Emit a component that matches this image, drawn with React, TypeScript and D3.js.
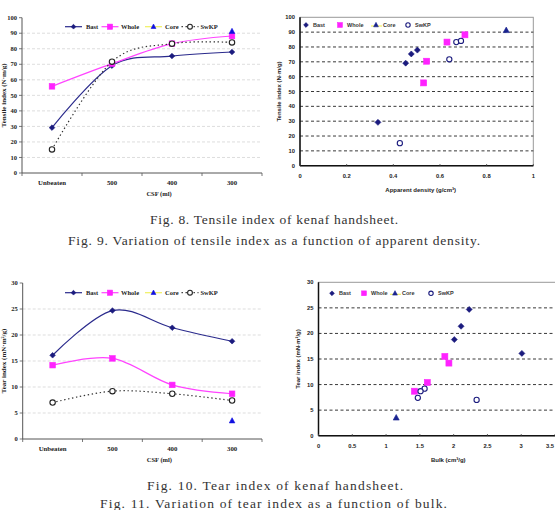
import React from 'react';
import * as d3 from 'd3';

// Freeness steps (CSF, ml) used on the category axis of the line charts
const csfLabels = ['Unbeaten', '500', '400', '300'];

// Tensile index (N·m/g) by freeness
const tensileBast = [29.2, 69.1, 75.3, 77.9];
const tensileWhole = [55.8, 70.4, 83.3, 88.2];
const tensileCore = [null, null, null, 91.2];
const tensileSwkp = [15.2, 71.7, 83.3, 84.1];

// Tear index (mN·m²/g) by freeness
const tearBast = [16.1, 24.7, 21.4, 18.8];
const tearWhole = [14.2, 15.5, 10.4, 8.7];
const tearCore = [null, null, null, 3.5];
const tearSwkp = [7.0, 9.2, 8.7, 7.4];

// Apparent density (g/cm³) by freeness
const densityBast = [0.334, 0.453, 0.477, 0.503];
const densityWhole = [0.53, 0.543, 0.63, 0.707];
const densityCore = [null, null, null, 0.884];
const densitySwkp = [0.428, 0.64, 0.67, 0.69];

// Bulk (cm³/g) by freeness
const bulkBast = [3.01, 2.23, 2.11, 2.01];
const bulkWhole = [1.93, 1.87, 1.61, 1.42];
const bulkCore = [null, null, null, 1.15];
const bulkSwkp = [2.34, 1.57, 1.51, 1.47];

const tensileTicks = [0, 10, 20, 30, 40, 50, 60, 70, 80, 90, 100];
const tearTicks = [0, 5, 10, 15, 20, 25, 30];
const densityTicks = [0, 0.2, 0.4, 0.6, 0.8, 1];
const bulkTicks = [0, 0.5, 1, 1.5, 2, 2.5, 3, 3.5];

const seriesNames = ['Bast', 'Whole', 'Core', 'SwKP'];

type Shape = 'diamond' | 'square' | 'triangle' | 'circle';
type V = number | null;

const SERIF = "'Liberation Serif', 'Times New Roman', serif";
const SANS = "'Liberation Sans', Arial, sans-serif";

const lineStyles = [
  { shape: 'diamond' as Shape, color: '#1b1b7e', fill: '#1b1b7e', dash: undefined as string | undefined, line: '#2a2a8c' },
  { shape: 'square' as Shape, color: '#ff22ff', fill: '#ff22ff', dash: undefined, line: '#ff44ff' },
  { shape: 'triangle' as Shape, color: '#1010e0', fill: '#1010e0', dash: undefined, line: '#f0f060' },
  { shape: 'circle' as Shape, color: '#222', fill: '#fff', dash: '1.4 2.6', line: '#333' },
];

const scatterStyles = [
  { shape: 'diamond' as Shape, color: '#1b1b7e', fill: '#1b1b7e' },
  { shape: 'square' as Shape, color: '#ff22ff', fill: '#ff22ff' },
  { shape: 'triangle' as Shape, color: '#1a2390', fill: '#1a2390' },
  { shape: 'circle' as Shape, color: '#1b1b7e', fill: '#fff' },
];

function Marker({ shape, x, y, s, fill, stroke }: { shape: Shape; x: number; y: number; s: number; fill: string; stroke: string }) {
  if (shape === 'diamond')
    return <path d={`M${x},${y - s}L${x + s},${y}L${x},${y + s}L${x - s},${y}Z`} fill={fill} stroke={stroke} strokeWidth={0.6} />;
  if (shape === 'square')
    return <rect x={x - s} y={y - s} width={2 * s} height={2 * s} fill={fill} stroke={stroke} strokeWidth={0.6} />;
  if (shape === 'triangle')
    return <path d={`M${x},${y - s * 1.1}L${x + s},${y + s * 0.75}L${x - s},${y + s * 0.75}Z`} fill={fill} stroke={stroke} strokeWidth={0.6} />;
  return <circle cx={x} cy={y} r={s} fill={fill} stroke={stroke} strokeWidth={1.1} />;
}

// Line chart with the freeness categories on x (Excel-like smoothed lines)
function CsfChart({ series, yTicks, left, right, top, bottom, yTitle, legendY }: {
  series: V[][]; yTicks: number[]; left: number; right: number; top: number; bottom: number; yTitle: string; legendY: number;
}) {
  const x = d3.scaleBand<string>().domain(csfLabels).range([left, right]).padding(0);
  const y = d3.scaleLinear().domain([0, d3.max(yTicks) as number]).range([bottom, top]);
  const cx = (i: number) => (x(csfLabels[i]) as number) + x.bandwidth() / 2;
  const line = d3.line<V>()
    .defined(d => d != null)
    .x((_, i) => cx(i))
    .y(d => y(d as number))
    .curve(d3.curveCardinal.tension(0));
  const legendX = [65, 101.5, 145, 181.5];
  const legendW = 17;
  const textX = [86, 121, 165, 200.5];
  return (
    <g>
      {yTicks.slice(1, -1).map(t => (
        <line key={t} x1={left} x2={right} y1={y(t)} y2={y(t)} stroke="#cfcfcf" strokeWidth={0.7} strokeDasharray="3 2" />
      ))}
      <line x1={left} x2={left} y1={top} y2={bottom} stroke="#555" strokeWidth={1} />
      <line x1={left} x2={right} y1={bottom} y2={bottom} stroke="#555" strokeWidth={1} />
      {yTicks.map(t => (
        <g key={t}>
          <line x1={left - 3} x2={left} y1={y(t)} y2={y(t)} stroke="#555" strokeWidth={0.8} />
          <text x={left - 5} y={y(t) + 2.2} textAnchor="end" fontFamily={SERIF} fontWeight="bold" fontSize={6.5} fill="#222">{t}</text>
        </g>
      ))}
      {csfLabels.map((c, i) => (
        <g key={c}>
          <line x1={x(c) as number} x2={x(c) as number} y1={bottom} y2={bottom + 3} stroke="#555" strokeWidth={0.8} />
          <text x={cx(i)} y={bottom + 12} textAnchor="middle" fontFamily={SERIF} fontWeight="bold" fontSize={6.8} fill="#222">{c}</text>
        </g>
      ))}
      <line x1={right} x2={right} y1={bottom} y2={bottom + 3} stroke="#555" strokeWidth={0.8} />
      <text x={(left + right) / 2 + 17} y={bottom + 23} textAnchor="middle" fontFamily={SERIF} fontWeight="bold" fontSize={6.5} fill="#222">CSF (ml)</text>
      <text transform={`translate(6,${(top + bottom) / 2}) rotate(-90)`} textAnchor="middle" fontFamily={SERIF} fontWeight="bold" fontSize={7} fill="#222">{yTitle}</text>
      {series.map((vals, si) => {
        const st = lineStyles[si];
        const count = vals.filter(v => v != null).length;
        return (
          <g key={si}>
            {count > 1 && (
              <path d={line(vals) as string} fill="none" stroke={st.line} strokeWidth={1.2} strokeDasharray={st.dash} />
            )}
            {vals.map((v, i) => v == null ? null : (
              <Marker key={i} shape={st.shape} x={cx(i)} y={y(v)} s={st.shape === 'circle' ? 2.7 : 2.8} fill={st.fill} stroke={st.color} />
            ))}
          </g>
        );
      })}
      {seriesNames.map((n, i) => {
        const st = lineStyles[i];
        const x0 = legendX[i];
        return (
          <g key={n}>
            <line x1={x0} x2={x0 + legendW} y1={legendY} y2={legendY} stroke={st.line} strokeWidth={1.2} strokeDasharray={st.dash} />
            <Marker shape={st.shape} x={x0 + legendW / 2} y={legendY} s={st.shape === 'square' ? 2.6 : 2.4} fill={st.fill} stroke={st.color} />
            <text x={textX[i]} y={legendY + 2.3} fontFamily={SERIF} fontWeight="bold" fontSize={6.5} fill="#222">{n}</text>
          </g>
        );
      })}
    </g>
  );
}

// Scatter chart of a strength value against a sheet property
function PropertyChart({ xs, ys, xTicks, yTicks, left, right, top, bottom, xMax, xRight, yTitle, xTitle, legendX, legendY }: {
  xs: V[][]; ys: V[][]; xTicks: number[]; yTicks: number[]; left: number; right: number; top: number; bottom: number;
  xMax: number; xRight: number; yTitle: string; xTitle: string; legendX: number[]; legendY: number;
}) {
  const x = d3.scaleLinear().domain([0, xMax]).range([left, xRight]);
  const y = d3.scaleLinear().domain([0, d3.max(yTicks) as number]).range([bottom, top]);
  return (
    <g>
      <rect x={left} y={top} width={right - left} height={bottom - top} fill="none" stroke="#999" strokeWidth={1} />
      {yTicks.slice(1, -1).map(t => (
        <line key={t} x1={left} x2={right} y1={y(t)} y2={y(t)} stroke="#222" strokeWidth={0.9} strokeDasharray="3 2.5" />
      ))}
      <line x1={left} x2={left} y1={top} y2={bottom} stroke="#111" strokeWidth={1.5} />
      <line x1={left} x2={right} y1={bottom} y2={bottom} stroke="#111" strokeWidth={1.5} />
      {yTicks.map(t => (
        <text key={t} x={left - 5} y={y(t) + 2} textAnchor="end" fontFamily={SANS} fontWeight="bold" fontSize={5.8} fill="#222">{t}</text>
      ))}
      {xTicks.map(t => {
        const px = x(t);
        // keep the last label inside the page edge
        const edge = px > 549;
        return (
          <g key={t}>
            <line x1={px} x2={px} y1={bottom} y2={bottom - 1.5} stroke="#444" strokeWidth={1} />
            <text x={edge ? 554 : px} y={bottom + 12} textAnchor={edge ? 'end' : 'middle'} fontFamily={SANS} fontWeight="bold" fontSize={5.8} fill="#222">{t}</text>
          </g>
        );
      })}
      <text x={(left + right) / 2 + 4} y={bottom + 26} textAnchor="middle" fontFamily={SANS} fontWeight="bold" fontSize={6} fill="#222">{xTitle}</text>
      <text transform={`translate(${left - 19},${(top + bottom) / 2}) rotate(-90)`} textAnchor="middle" fontFamily={SANS} fontWeight="bold" fontSize={6} fill="#222">{yTitle}</text>
      {xs.map((col, si) => {
        const st = scatterStyles[si];
        return col.map((v, i) => {
          const w = ys[si][i];
          if (v == null || w == null) return null;
          return <Marker key={`${si}-${i}`} shape={st.shape} x={x(v)} y={y(w)} s={st.shape === 'circle' ? 2.6 : 3} fill={st.fill} stroke={st.color} />;
        });
      })}
      {seriesNames.map((n, i) => {
        const st = scatterStyles[i];
        const x0 = legendX[i];
        return (
          <g key={n}>
            {st.shape === 'triangle' && (
              <line x1={x0 - 5} x2={x0 + 6} y1={legendY + 1} y2={legendY + 1} stroke="#f0f060" strokeWidth={1.2} />
            )}
            <Marker shape={st.shape} x={x0} y={legendY} s={st.shape === 'circle' ? 2.2 : 2.4} fill={st.fill} stroke={st.color} />
            <text x={x0 + 7} y={legendY + 2} fontFamily={SANS} fontWeight="bold" fontSize={5.5} fill="#333">{n}</text>
          </g>
        );
      })}
    </g>
  );
}

function Caption({ y, text, x1, x2 }: { y: number; text: string; x1: number; x2: number }) {
  return (
    <text x={x1} y={y} fontFamily={SERIF} fontSize={13.5} fill="#333" textLength={x2 - x1} lengthAdjust="spacing">{text}</text>
  );
}

export default function App() {
  return (
    <div style={{ position: 'absolute', left: 0, top: 0 }}>
      <svg width={555} height={510} style={{ display: 'block', background: '#fff' }}>
        <CsfChart
          series={[tensileBast, tensileWhole, tensileCore, tensileSwkp]}
          yTicks={tensileTicks}
          left={22} right={262} top={17.7} bottom={173}
          yTitle="Tensile index (N·m/g)"
          legendY={26.7}
        />
        <PropertyChart
          xs={[densityBast, densityWhole, densityCore, densitySwkp]}
          ys={[tensileBast, tensileWhole, tensileCore, tensileSwkp]}
          xTicks={densityTicks} yTicks={tensileTicks}
          left={300} right={533.3} top={17.3} bottom={165.7}
          xMax={1} xRight={533.3}
          yTitle="Tensile index (N·m/g)" xTitle="Apparent density (g/cm³)"
          legendX={[306, 340, 376, 408]} legendY={25}
        />
        <CsfChart
          series={[tearBast, tearWhole, tearCore, tearSwkp]}
          yTicks={tearTicks}
          left={22.7} right={262} top={283} bottom={439}
          yTitle="Tear index (mN·m²/g)"
          legendY={292.7}
        />
        <PropertyChart
          xs={[bulkBast, bulkWhole, bulkCore, bulkSwkp]}
          ys={[tearBast, tearWhole, tearCore, tearSwkp]}
          xTicks={bulkTicks} yTicks={tearTicks}
          left={318.5} right={570} top={282.3} bottom={435.7}
          xMax={3.5} xRight={555}
          yTitle="Tear index (mN·m²/g)" xTitle="Bulk (cm³/g)"
          legendX={[332, 364, 395, 431]} legendY={293.3}
        />
        <Caption y={224} x1={150} x2={398} text="Fig. 8. Tensile index of kenaf handsheet." />
        <Caption y={245} x1={68} x2={480} text="Fig. 9. Variation of tensile index as a function of apparent density." />
        <Caption y={490} x1={147} x2={403} text="Fig. 10. Tear index of kenaf handsheet." />
        <Caption y={508} x1={100} x2={447} text="Fig. 11. Variation of tear index as a function of bulk." />
      </svg>
    </div>
  );
}
